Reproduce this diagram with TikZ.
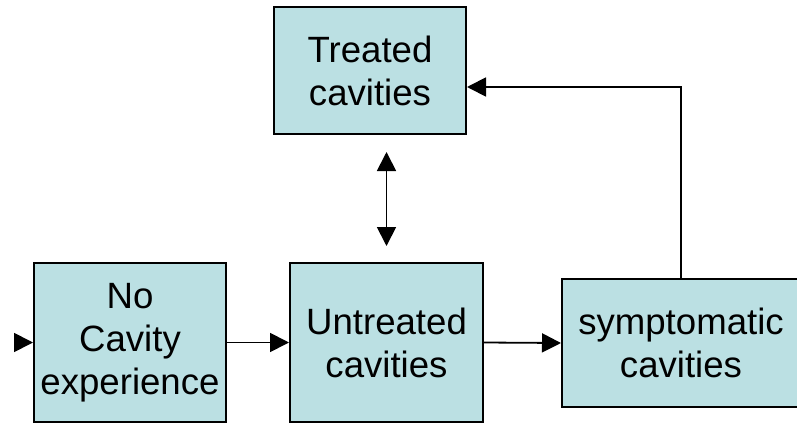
\documentclass[tikz,border=0pt]{standalone}
\usepackage{fontspec}
\setmainfont{Liberation Sans}
\usetikzlibrary{arrows.meta}
\definecolor{boxfill}{RGB}{187,224,227}
\begin{document}
\begin{tikzpicture}[x=1pt,y=-1pt,
  box/.style={draw=black,line width=2pt,fill=boxfill,align=center,inner sep=0pt,
    font=\fontsize{36.6}{43}\selectfont},
  arr/.style={line width=1.8pt,-{Triangle[length=19pt,width=19pt]}},
  dbl/.style={line width=1.8pt,{Triangle[length=19pt,width=19pt]}-{Triangle[length=19pt,width=19pt]}}]
\useasboundingbox (0,0) rectangle (797,423);
\node[box,minimum width=192pt,minimum height=159pt] (A) at (130,342.5) {No\\Cavity\\experience};
\node[box,minimum width=193pt,minimum height=159pt] (B) at (386.5,342.5) {Untreated\\cavities};
\node[box,minimum width=192pt,minimum height=127pt] (C) at (370,70.5) {Treated\\cavities};
\node[box,minimum width=238pt,minimum height=128pt,text width=238pt] (D) at (681,343) {symptomatic\hspace*{8pt}\\cavities\hspace*{2pt}};
\coordinate (in) at (15,342.5);
\draw[arr] (in) -- (A.west);
\draw[arr] (A.east) -- (B.west);
\draw[arr] (B.east) -- (D.west);
\draw[dbl] ([yshift=-17pt]C.south -| B.north) -- ([yshift=16pt]B.north);
\draw[arr] (D.north) |- ([yshift=-16.5pt]C.east);
\end{tikzpicture}
\end{document}
